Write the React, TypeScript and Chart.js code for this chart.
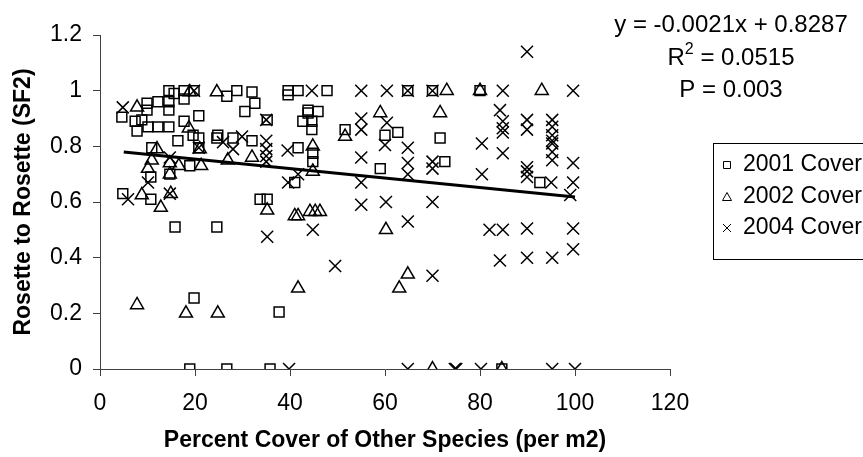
import React, { useEffect, useRef } from "react";
import { Chart, registerables } from "chart.js";

Chart.register(...registerables);

// ---- data ----
const cover2001X = [4.8, 4.6, 9.9, 9.9, 12.2, 14.5, 15.6, 17.7, 19.8, 14.5, 14.5, 17.7, 7.4, 8.8, 7.8, 10.1, 12.2, 14.5, 17.7, 20.8, 19.6, 16.4, 20.8, 20.8, 24.6, 10.9, 10.7, 14.7, 18.9, 10.7, 15.8, 24.6, 19.8, 18.9, 26.7, 28.8, 32, 32.6, 30.5, 39.6, 39.6, 41.7, 47.8, 43.8, 43.8, 45.9, 42.7, 44.6, 44.6, 35.2, 24.8, 28, 32, 41.7, 44.8, 44.8, 41, 33.7, 35.2, 37.7, 26.7, 35.8, 51.6, 60, 62.7, 64.8, 70, 71.6, 59, 72.6, 80, 92.6, 84.6];
const cover2001Y = [0.63, 0.905, 0.955, 0.93, 0.96, 1.0, 0.99, 1.0, 1.0, 0.96, 0.93, 0.97, 0.89, 0.895, 0.855, 0.87, 0.87, 0.87, 0.89, 0.91, 0.84, 0.82, 0.83, 0.795, 0.83, 0.795, 0.69, 0.7, 0.73, 0.61, 0.51, 0.51, 0.255, 0, 0.98, 1.0, 0.995, 0.955, 0.925, 1.0, 0.985, 1.0, 1.0, 0.93, 0.92, 0.925, 0.89, 0.89, 0.86, 0.895, 0.84, 0.83, 0.82, 0.795, 0.775, 0.745, 0.67, 0.61, 0.61, 0.205, 0, 0, 0.86, 0.84, 0.85, 1.0, 1.0, 0.83, 0.72, 0.745, 1.0, 0.67, 0];

const cover2002X = [7.8, 18.1, 24.8, 10.9, 10.1, 14.7, 14.7, 16.6, 21.3, 8.8, 12.8, 14.9, 12, 21, 7.8, 18.9, 18.7, 24.6, 32, 26.9, 44.8, 44.8, 35.2, 41, 41.7, 44.2, 45.3, 46.3, 41.7, 51.6, 73, 59, 71.6, 60.2, 64.8, 63, 70, 80, 93, 84.6];
const cover2002Y = [0.23, 0.2, 0.2, 0.75, 0.72, 0.74, 0.7, 0.73, 0.73, 0.625, 0.58, 0.63, 0.79, 0.79, 0.94, 0.995, 0.865, 0.995, 0.76, 0.75, 0.8, 0.71, 0.57, 0.55, 0.55, 0.565, 0.565, 0.565, 0.29, 0.835, 1.0, 0.92, 0.92, 0.5, 0.34, 0.29, 0, 1.0, 1.0, 0];

const cover2004X = [4.8, 5.9, 10.1, 14.7, 14.7, 19.8, 20.8, 25.9, 29.9, 28, 44.6, 35, 35, 35, 35, 35, 39.5, 41.7, 39.6, 35.2, 44.8, 49.5, 39.8, 55, 60.4, 64.8, 70, 55, 60.4, 55, 60, 64.8, 55, 64.8, 70, 55, 55, 60.2, 70, 64.8, 70, 64.8, 74.7, 64.8, 70, 89.9, 84.8, 99.6, 84.2, 84.8, 84.8, 84.8, 80.4, 84.8, 89.9, 89.9, 95.2, 95.2, 95.2, 95.2, 95.2, 95.2, 95.2, 99.6, 89.9, 80.4, 89.9, 89.9, 95, 99.6, 99, 82, 84.8, 89.9, 99.6, 84.2, 89.9, 95.2, 99.6, 75, 80.2, 95.2, 100];
const cover2004Y = [0.94, 0.61, 0.67, 0.76, 0.63, 1.0, 0.795, 0.815, 0.835, 0.79, 1.0, 0.895, 0.82, 0.79, 0.765, 0.745, 0.785, 0.7, 0.67, 0.475, 0.5, 0.37, 0, 1.0, 1.0, 1.0, 1.0, 0.9, 0.885, 0.86, 0.805, 0.795, 0.76, 0.74, 0.745, 0.67, 0.59, 0.6, 0.6, 0.53, 0.335, 0, 0, 0.7, 0.72, 1.14, 1.0, 1.0, 0.93, 0.89, 0.865, 0.85, 0.81, 0.775, 0.895, 0.86, 0.895, 0.87, 0.84, 0.82, 0.81, 0.78, 0.75, 0.74, 0.725, 0.7, 0.71, 0.69, 0.67, 0.67, 0.625, 0.5, 0.5, 0.505, 0.505, 0.39, 0.4, 0.4, 0.43, 0, 0, 0, 0];

const trendX = [5, 100];
const trendY = [0.78, 0.618];

const seriesLabels = ["2001 Cover", "2002 Cover", "2004 Cover"];
const xTickLabels = ["0", "20", "40", "60", "80", "100", "120"];
const yTickLabels = ["0", "0.2", "0.4", "0.6", "0.8", "1", "1.2"];
const xTitle = "Percent Cover of Other Species (per m2)";
const yTitle = "Rosette to Rosette (SF2)";
const equationText = "y = -0.0021x + 0.8287";
const r2Value = "0.0515";
const pValue = "0.003";

const FONT = "'Liberation Sans', Arial, sans-serif";
const FS = 23;
const EQ_FS = 24;

const toPoints = (xs: number[], ys: number[]) => xs.map((x, i) => ({ x, y: ys[i] }));

function drawLegendMarker(ctx: CanvasRenderingContext2D, kind: string, cx: number, cy: number) {
  ctx.beginPath();
  if (kind === "rect") {
    ctx.rect(cx - 3.5, cy - 3.5, 7, 7);
  } else if (kind === "triangle") {
    ctx.moveTo(cx, cy - 4.5);
    ctx.lineTo(cx + 4.5, cy + 3.5);
    ctx.lineTo(cx - 4.5, cy + 3.5);
    ctx.closePath();
  } else {
    ctx.moveTo(cx - 4, cy - 4);
    ctx.lineTo(cx + 4, cy + 4);
    ctx.moveTo(cx + 4, cy - 4);
    ctx.lineTo(cx - 4, cy + 4);
  }
  ctx.stroke();
}

const overlayPlugin = {
  id: "overlay",
  afterDraw(chart: any) {
    const ctx: CanvasRenderingContext2D = chart.ctx;
    ctx.save();
    ctx.fillStyle = "#000";
    ctx.strokeStyle = "#000";
    ctx.textBaseline = "middle";
    ctx.font = `${EQ_FS}px ${FONT}`;
    // equation block (centered)
    const cx = 731;
    ctx.textAlign = "center";
    ctx.fillText(equationText, cx, 25);
    ctx.fillText(`P = ${pValue}`, cx, 90);
    // R² line
    const rW = ctx.measureText("R").width;
    const restStr = ` = ${r2Value}`;
    const restW = ctx.measureText(restStr).width;
    ctx.font = `${Math.round(EQ_FS * 0.65)}px ${FONT}`;
    const supW = ctx.measureText("2").width;
    const total = rW + supW + restW;
    const x0 = cx - total / 2;
    ctx.textAlign = "left";
    ctx.font = `${EQ_FS}px ${FONT}`;
    ctx.fillText("R", x0, 58);
    ctx.font = `${Math.round(EQ_FS * 0.65)}px ${FONT}`;
    ctx.fillText("2", x0 + rW, 50);
    ctx.font = `${EQ_FS}px ${FONT}`;
    ctx.fillText(restStr, x0 + rW + supW, 58);

    // legend box
    ctx.font = `${FS}px ${FONT}`;
    ctx.lineWidth = 1;
    ctx.strokeStyle = "#000";
    ctx.strokeRect(713.5, 143.5, 160, 116);
    const kinds = ["rect", "triangle", "cross"];
    const ys = [165, 197, 228];
    seriesLabels.forEach((lab, i) => {
      drawLegendMarker(ctx, kinds[i], 727, ys[i]);
      ctx.fillText(lab, 743, ys[i]);
    });
    ctx.restore();
  },
};

export default function App() {
  const canvasRef = useRef<HTMLCanvasElement | null>(null);

  useEffect(() => {
    const canvas = canvasRef.current;
    if (!canvas) return;
    const markerCommon = {
      borderColor: "#000",
      backgroundColor: "rgba(0,0,0,0)",
      borderWidth: 1.5,
      showLine: false,
    };
    const chart = new Chart(canvas, {
      type: "scatter",
      data: {
        datasets: [
          { ...markerCommon, label: seriesLabels[0], data: toPoints(cover2001X, cover2001Y), pointStyle: "rect", pointRadius: 7 },
          { ...markerCommon, label: seriesLabels[1], data: toPoints(cover2002X, cover2002Y), pointStyle: "triangle", pointRadius: 7.5 },
          { ...markerCommon, label: seriesLabels[2], data: toPoints(cover2004X, cover2004Y), pointStyle: "crossRot", pointRadius: 8.5 },
          {
            type: "line" as any,
            label: "trend",
            data: toPoints(trendX, trendY),
            borderColor: "#000",
            borderWidth: 3,
            pointRadius: 0,
            showLine: true,
            fill: false,
          },
        ],
      },
      options: {
        animation: false,
        responsive: false,
        maintainAspectRatio: false,
        events: [],
        layout: { padding: { top: 35, right: 193, bottom: 0, left: 0 } },
        plugins: { legend: { display: false }, tooltip: { enabled: false } },
        scales: {
          x: {
            type: "linear",
            min: 0,
            max: 120,
            ticks: {
              stepSize: 20,
              color: "#000",
              font: { family: FONT, size: FS },
              padding: 14,
              maxRotation: 0,
              callback: (_v: any, i: number) => xTickLabels[i],
            },
            grid: { drawOnChartArea: false, tickLength: 7, color: "#404040" },
            border: { color: "#404040", width: 1 },
            title: {
              display: true,
              text: xTitle,
              color: "#000",
              font: { family: FONT, size: FS, weight: "bold" },
              padding: { top: 0, bottom: 3 },
            },
            afterFit: (s: any) => {
              s.height = 88;
            },
          },
          y: {
            type: "linear",
            min: 0,
            max: 1.2,
            ticks: {
              stepSize: 0.2,
              color: "#000",
              font: { family: FONT, size: FS },
              padding: 11,
              callback: (_v: any, i: number) => yTickLabels[i],
            },
            grid: { drawOnChartArea: false, tickLength: 7, color: "#404040" },
            border: { color: "#404040", width: 1 },
            title: {
              display: true,
              text: yTitle,
              color: "#000",
              font: { family: FONT, size: FS, weight: "bold" },
              padding: { top: 10, bottom: 0 },
            },
            afterFit: (s: any) => {
              s.width = 100;
            },
          },
        },
      },
      plugins: [overlayPlugin],
    } as any);
    return () => chart.destroy();
  }, []);

  return (
    <div style={{ position: "absolute", left: 0, top: 0, width: 863, height: 457, background: "#fff" }}>
      <canvas ref={canvasRef} width={863} height={457} style={{ width: 863, height: 457 }} />
    </div>
  );
}
